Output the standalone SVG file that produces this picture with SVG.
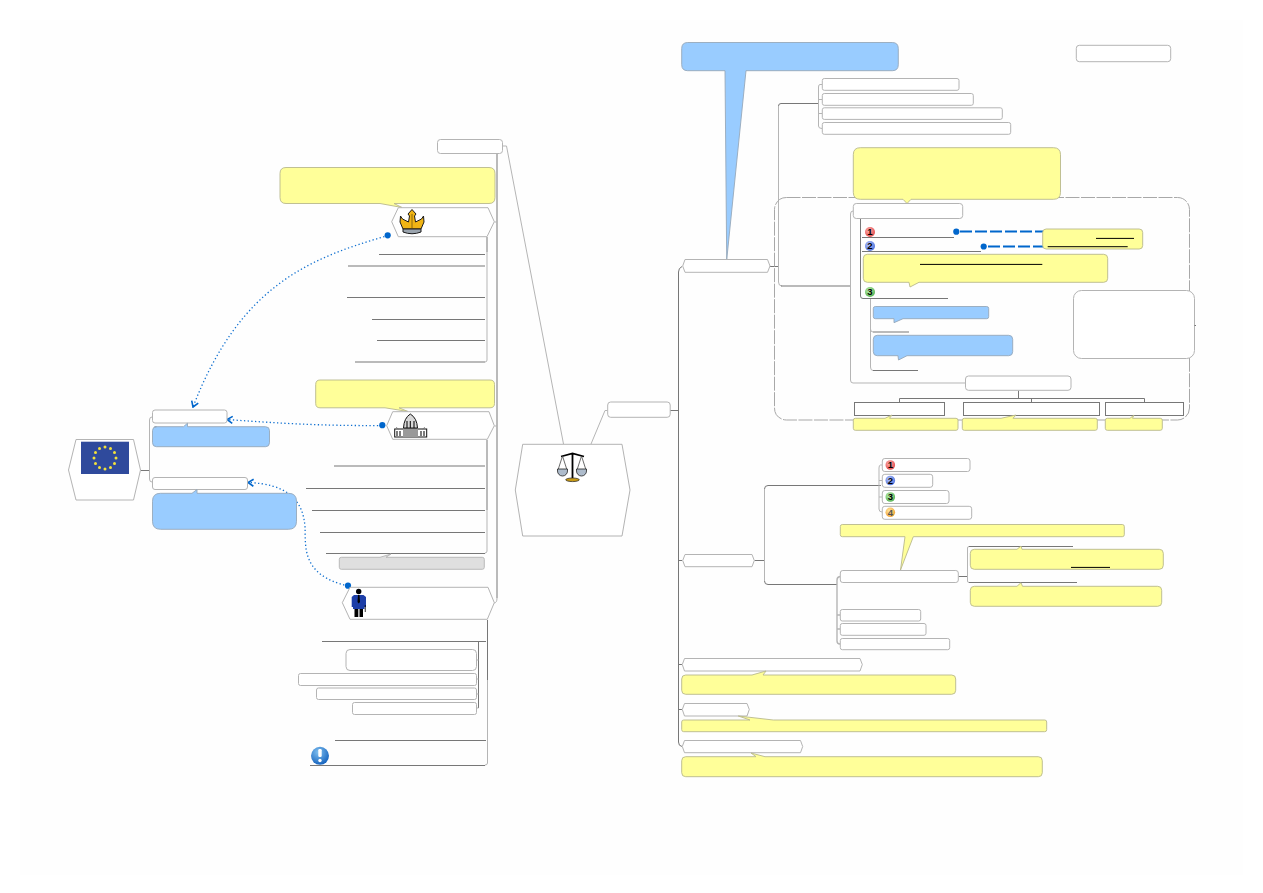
<svg xmlns="http://www.w3.org/2000/svg" width="1263" height="893" viewBox="0 0 1263 893">
<style>
.n{fill:#fff;stroke:#b4b4b4;stroke-width:1}
.y{fill:#ffff99;stroke:#b9b98c;stroke-width:.9}
.b{fill:#99ccff;stroke:#96a8ba;stroke-width:.9}
.g{fill:#dfdfdf;stroke:#b4b4b4;stroke-width:.9}
.t{fill:none;stroke:#777;stroke-width:1}
.l{fill:none;stroke:#b5b5b5;stroke-width:1}
.box{fill:#fff;stroke:#777;stroke-width:1}
.u{stroke:#000;stroke-width:1;fill:none}
.dot{fill:none;stroke:#1070d0;stroke-width:1.3;stroke-dasharray:1.3 2.4}
.dash{fill:none;stroke:#0066cc;stroke-width:2;stroke-dasharray:12 3}
.pin{fill:#0066cc}
.num{font:bold 9.5px "Liberation Sans",Arial,sans-serif;fill:#000;text-anchor:middle}
</style>
<defs>
<marker id="arrow" markerWidth="8" markerHeight="10" refX="7" refY="5" orient="auto" markerUnits="userSpaceOnUse"><path d="M1.5,1.5 L7,5 L1.5,8.5" fill="none" stroke="#0066cc" stroke-width="1.6"/></marker>
<radialGradient id="red" cx=".4" cy=".35" r=".7"><stop offset="0" stop-color="#ffb0b0"/><stop offset="1" stop-color="#e04848"/></radialGradient>
<radialGradient id="blue" cx=".4" cy=".35" r=".7"><stop offset="0" stop-color="#b8c8ff"/><stop offset="1" stop-color="#4a6cd8"/></radialGradient>
<radialGradient id="green" cx=".4" cy=".35" r=".7"><stop offset="0" stop-color="#c0f0b0"/><stop offset="1" stop-color="#50b050"/></radialGradient>
<radialGradient id="amber" cx=".4" cy=".35" r=".7"><stop offset="0" stop-color="#ffe8a0"/><stop offset="1" stop-color="#f0a030"/></radialGradient>
<radialGradient id="info" cx=".4" cy=".3" r=".8"><stop offset="0" stop-color="#80c0f0"/><stop offset="1" stop-color="#0858b8"/></radialGradient>
</defs>

<rect width="1263" height="893" fill="#fff"/>
<rect x="20" y="20" width="1223" height="855" fill="#fefefe"/>

<g id="connectors">
<!-- left trunk and its branches -->
<path class="l" d="M503,146 H506.5 L563.5,444"/>
<path class="l" d="M591,444 L605,410.5 H607.5"/>
<path class="t" d="M497,153.5 V598"/>
<path class="l" d="M497,598 Q497,603 494,603"/>
<path class="l" d="M494.5,222 H497 M494.5,426 H497"/>
<path class="t" d="M487,237 V252"/>
<path class="l" d="M487,252 V360 Q487,362 485,362"/>
<path class="t" d="M379,254.5 H485 M348,266 H485 M347,297.5 H485 M372,319.5 H485 M377,340.5 H485 M355,362 H485"/>
<path class="t" d="M487,440 V510"/>
<path class="l" d="M487,510 V551 Q487,553 485,553"/>
<path class="t" d="M334,466 H485 M306,488.5 H485 M312,510.5 H485 M320,532.5 H485 M326,553.5 H485"/>
<path class="t" d="M487.5,620 V680"/>
<path class="l" d="M487.5,680 V763 Q487.5,765 485,765"/>
<path class="t" d="M322,641.5 H486 M335,740.5 H486 M310,765.5 H485"/>
<path class="t" d="M478.5,642 V708"/>
<path class="l" d="M476.5,660 H478.5 M476.5,679 H478.5 M476.5,694 H478.5 M476.5,708 H478.5"/>
<path class="t" d="M141,470.5 H149"/>
<path class="l" d="M152,417 Q149.5,417 149.5,420 V479 Q149.5,482 152,482"/>

<!-- right trunk -->
<path class="t" d="M670,410.5 H678.5"/>
<path class="t" d="M682,266.5 Q678.5,268 678.5,272 V742 Q678.5,746 682,746.5"/>
<path class="t" d="M678.5,560.5 H682 M678.5,664.5 H682 M678.5,709.5 H682"/>
<path class="t" d="M770,266.5 H778"/>
<path class="l" d="M778.5,106 V282 Q778.5,286 782,286"/>
<path class="t" d="M781,103.5 H819 M781,286 H850 M781,103.5 Q778.5,103.5 778.5,106"/>
<path class="l" d="M822,84.5 H820 Q818.5,84.5 818.5,87 V126 Q818.5,128.5 822,128.5 M818.5,99.5 H822 M818.5,113.5 H822"/>
<path class="l" d="M853,211 Q850.5,211 850.5,214 V380 Q850.5,383 853,383 H966"/>
<path class="t" d="M860.5,218.5 V296 Q860.5,298.5 863,298.5 H948"/>
<path class="t" d="M862,237.5 H954 M862,251.5 H981"/>
<path class="l" d="M870.5,299 V329 Q870.5,332 873,332"/>
<path class="t" d="M873,332 H909 M873,370.5 H918"/>
<path class="l" d="M870.5,329 V367 Q870.5,370.5 873,370.5"/>
<path class="t" d="M1018.5,390.5 V398.5 M899.5,402 V398.5 H1144.5 V402 M1031.5,398.5 V402"/>
<path class="dash" d="M960,231.5 H1043"/>
<path class="dash" d="M988,246.5 H1043"/>
<path class="t" d="M754.5,560.5 H764"/>
<path class="l" d="M764.5,489 V581"/>
<path class="t" d="M768,485.5 H881 M768,584.5 H837 M768,485.5 Q764.5,485.5 764.5,489 M764.5,581 Q764.5,584.5 768,584.5"/>
<path class="l" d="M882,465 H880.5 Q879,465 879,468 V509 Q879,512 882,512 M879,480.5 H882 M879,497 H882"/>
<path class="l" style="stroke-width:1.4" d="M840,576.5 Q837,577 837,580 V641 Q837,644 840,644 M837,615 H840 M837,629 H840"/>
<path class="t" d="M958.5,576.5 H967"/>
<path class="t" d="M969,546.5 H1073 M969,582.5 H1077"/>
<path class="l" d="M969,546.5 Q967.5,546.5 967.5,548 V581 Q967.5,582.5 969,582.5"/>

<!-- dotted relationships -->
<path class="dot" d="M388,235.5 C310,258 240,285 193,407" marker-end="url(#arrow)"/>
<path class="dot" d="M382,425.5 C320,426 275,423 227,419.5" marker-end="url(#arrow)"/>
<path class="dot" d="M348,586 C300,575 306,545 305,527 C303,498 285,484 248,482.5" marker-end="url(#arrow)"/>
<circle class="pin" cx="387.7" cy="235.3" r="3.1"/>
<circle class="pin" cx="382.3" cy="425.2" r="3.1"/>
<circle class="pin" cx="348" cy="585.7" r="3.1"/>
<circle class="pin" cx="956.3" cy="231.7" r="3.1"/>
<circle class="pin" cx="983.7" cy="246.5" r="3.1"/>
</g>

<g id="boundary">
<rect x="774.5" y="197.5" width="415" height="222.5" rx="12" fill="none" stroke="#a8a8a8" stroke-width="1" stroke-dasharray="14 1.5"/>
</g>

<g id="eu"><path class="n" d="M68.5,470 L76,439.5 H133.5 L140.5,470 L133.5,500 H76 Z"/>
<rect x="81" y="441.7" width="48" height="32.3" fill="#2f4a9c"/>
<g fill="#f3e23a"><circle cx="105" cy="447" r="1.5"/><circle cx="110.5" cy="448.5" r="1.5"/><circle cx="114.5" cy="452.5" r="1.5"/><circle cx="116" cy="458" r="1.5"/><circle cx="114.5" cy="463.5" r="1.5"/><circle cx="110.5" cy="467.5" r="1.5"/><circle cx="105" cy="469" r="1.5"/><circle cx="99.5" cy="467.5" r="1.5"/><circle cx="95.5" cy="463.5" r="1.5"/><circle cx="94" cy="458" r="1.5"/><circle cx="95.5" cy="452.5" r="1.5"/><circle cx="99.5" cy="448.5" r="1.5"/></g></g>
<g id="left-a"><rect class="n" x="152.5" y="410" width="74.5" height="13" rx="2.5"/></g>
<g id="left-a-note"><path class="b" d="M154.5,426.7 H183.5 L187.5,423.2 V426.7 H265.5 Q269.5,426.7 269.5,430.7 V442.7 Q269.5,446.7 265.5,446.7 H156.5 Q152.5,446.7 152.5,442.7 V430.7 Q152.5,426.7 156.5,426.7 Z"/></g>
<g id="left-b"><rect class="n" x="152.5" y="477.5" width="95" height="12" rx="2.5"/></g>
<g id="left-b-note"><path class="b" d="M160.5,493.3 H192 L197,489.5 V493.3 H288.5 Q296.5,493.3 296.5,501.3 V521.3 Q296.5,529.3 288.5,529.3 H160.5 Q152.5,529.3 152.5,521.3 V501.3 Q152.5,493.3 160.5,493.3 Z"/></g>

<g id="top-left-label"><rect class="n" x="437.5" y="139.5" width="65" height="14" rx="3"/></g>
<g id="crown-note"><path class="y" d="M286,167.5 H489 Q495,167.5 495,173.5 V197.5 Q495,203.5 489,203.5 H394 L402,207.5 L380,203.5 H286 Q280,203.5 280,197.5 V173.5 Q280,167.5 286,167.5 Z"/></g>
<g id="crown"><path class="n" d="M391.7,221.7 L398.3,207.7 H488 L494.3,221.7 L487,236.7 H398.3 Z"/>
<path d="M412,209.5 L416,214 L414.5,216 L415.5,222 L421.5,219 L423.5,216 L424,222 L421,229 H403 L400,222 L400.5,216 L402.5,219 L408.5,222 L409.5,216 L408,214 Z" fill="#f0b414" stroke="#1a1a1a" stroke-width="1"/>
<path d="M403,229 H421 V232 Q412,235.5 403,232 Z" fill="#9aa4ae" stroke="#1a1a1a" stroke-width="1"/>
<path d="M412,214 V228" stroke="#8a6a10" stroke-width="1"/></g>

<g id="capitol-note"><path class="y" d="M320,380 H490 Q494.5,380 494.5,384.5 V403.5 Q494.5,407.8 490,407.8 H399 L408,411.5 L385,407.8 H320 Q315.7,407.8 315.7,403.5 V384.5 Q315.7,380 320,380 Z"/></g>
<g id="capitol"><path class="n" d="M386.7,425.7 L392.7,411.7 H489 L494.3,425.7 L487.3,439.3 H392.7 Z"/>
<path d="M410.3,414 Q404,418 403.5,428 H417.5 Q417,418 410.3,414 Z" fill="#d8d8d8" stroke="#111" stroke-width="1"/>
<rect x="394.7" y="429" width="32" height="8" fill="#fff" stroke="#111" stroke-width="1"/>
<rect x="403" y="429" width="15" height="8" fill="#999"/>
<path d="M397,431 V436 M400,431 V436 M421,431 V436 M424,431 V436 M407,421 V428 M410.3,421 V428 M414,421 V428" stroke="#111" stroke-width="1.1" fill="none"/>
<path d="M396,427.5 L398.5,429 M425,427.5 L422.5,429" stroke="#777"/></g>
<g id="gray-note"><path class="g" d="M341.3,557.3 H380 L391,554 L386,557.3 H482.3 Q484.3,557.3 484.3,559.3 V567.3 Q484.3,569.3 482.3,569.3 H341.3 Q339.3,569.3 339.3,567.3 V559.3 Q339.3,557.3 341.3,557.3 Z"/></g>

<g id="person"><path class="n" d="M342.3,602.7 L350,587.3 H488 L494.3,602.7 L487.3,619.3 H350 Z"/>
<circle cx="358.7" cy="591.5" r="2.7" fill="#000"/>
<path d="M354,595 H363.5 L366,597 V607 H364.5 V609 H353 V607 H351.7 V597 Z" fill="#1d3fa8"/>
<path d="M358,595 H359.5 L360,602 L358.7,603.5 L357.5,602 Z" fill="#000"/>
<path d="M354.5,609 H358.3 V617 H354.5 Z M359.5,609 H363 V617 H359.5 Z M364.8,605 H365.6 V612 H364.8 Z" fill="#000"/></g>
<g id="person-a"><rect class="n" x="346" y="649.5" width="130.5" height="21" rx="4"/></g>
<g id="person-b"><rect class="n" x="298.5" y="673.5" width="178" height="12" rx="2"/></g>
<g id="person-c"><rect class="n" x="316.5" y="688" width="160" height="11.5" rx="2"/></g>
<g id="person-d"><rect class="n" x="352.5" y="702.5" width="124" height="12" rx="2"/></g>
<g id="warning"><circle cx="320" cy="755.8" r="9" fill="url(#info)"/><rect x="318.3" y="749" width="3.4" height="8" rx="1.2" fill="#fff"/><circle cx="320" cy="760.5" r="1.7" fill="#fff"/></g>

<g id="central"><path d="M515.3,490 L522.7,444.3 H622 L630,490 L622,536 H522.7 Z" fill="#fff" stroke="#aaa" stroke-width=".9"/>
<path d="M572.5,453 V478 M561,456.5 L572.5,453.5 L584,456.5" stroke="#000" stroke-width="1.8" fill="none"/>
<path d="M562.5,456 L558,470 M562.5,456 L567,470 M581.5,456 L577,470 M581.5,456 L586,470" stroke="#444" stroke-width=".8" fill="none"/>
<path d="M557.5,469 H567.5 V471 A5,5 0 0 1 557.5,471 Z M576.5,469 H586.5 V471 A5,5 0 0 1 576.5,471 Z" fill="#aebccc" stroke="#222" stroke-width=".8"/>
<ellipse cx="572.5" cy="479.8" rx="6.8" ry="1.8" fill="#c89a14" stroke="#222" stroke-width=".7"/></g>
<g id="central-right"><rect class="n" x="607.7" y="402" width="62.5" height="15.3" rx="3"/></g>
<g id="top-right-label"><rect class="n" x="1076.3" y="45.3" width="94.4" height="16.4" rx="3"/></g>

<g id="blue-banner"><path class="b" d="M687.7,42.5 H892.3 Q898.3,42.5 898.3,48.5 V64.7 Q898.3,70.7 892.3,70.7 H746 L726.7,260 L725,70.7 H687.7 Q681.7,70.7 681.7,64.7 V48.5 Q681.7,42.5 687.7,42.5 Z"/></g>
<g id="hub"><path class="n" d="M682.7,266 L685,259.5 H767.5 L770,266 L767.5,272.3 H685 Z"/></g>
<g id="list-1"><rect class="n" x="822.3" y="78.5" width="136.7" height="11.8" rx="2"/></g>
<g id="list-2"><rect class="n" x="822.3" y="93.5" width="151" height="11.8" rx="2"/></g>
<g id="list-3"><rect class="n" x="822.3" y="107.8" width="180" height="11.6" rx="2"/></g>
<g id="list-4"><rect class="n" x="822.3" y="122.5" width="188.4" height="11.8" rx="2"/></g>

<g id="group-note"><path class="y" d="M860.3,147.7 H1053.5 Q1060.5,147.7 1060.5,154.7 V192.3 Q1060.5,199.3 1053.5,199.3 H911 L907,203.5 L903,199.3 H860.3 Q853.3,199.3 853.3,192.3 V154.7 Q853.3,147.7 860.3,147.7 Z"/></g>
<g id="group-head"><rect class="n" x="853.3" y="203.5" width="109.4" height="15" rx="3"/></g>
<g id="step-1"><circle cx="870" cy="232" r="5" fill="url(#red)"/><text class="num" x="870" y="235.4">1</text></g>
<g id="step-2"><circle cx="870" cy="246" r="5" fill="url(#blue)"/><text class="num" x="870" y="249.4">2</text></g>
<g id="step-3"><circle cx="870" cy="292" r="5" fill="url(#green)"/><text class="num" x="870" y="295.4">3</text></g>
<g id="steps-note"><rect class="y" x="1042.7" y="229" width="100" height="20" rx="3.5"/><path class="u" d="M1096,238.4 H1134 M1047.7,246.7 H1127.7"/></g>
<g id="mid-note"><path class="y" d="M867.3,254.3 H1103.7 Q1107.7,254.3 1107.7,258.3 V278.3 Q1107.7,282.3 1103.7,282.3 H919 L910,287 L909,282.3 H867.3 Q863.3,282.3 863.3,278.3 V258.3 Q863.3,254.3 867.3,254.3 Z"/><path class="u" d="M920,264.4 H1042.3"/></g>
<g id="blue-a"><path class="b" d="M875.3,306.5 H986.7 Q988.7,306.5 988.7,308.5 V316.7 Q988.7,318.7 986.7,318.7 H903 L894,322.7 L894,318.7 H875.3 Q873.3,318.7 873.3,316.7 V308.5 Q873.3,306.5 875.3,306.5 Z"/></g>
<g id="blue-b"><path class="b" d="M877.3,335.3 H1008.7 Q1012.7,335.3 1012.7,339.3 V351.7 Q1012.7,355.7 1008.7,355.7 H907 L898.5,360 L898,355.7 H877.3 Q873.3,355.7 873.3,351.7 V339.3 Q873.3,335.3 877.3,335.3 Z"/></g>
<g id="side-note"><rect class="n" x="1073.5" y="290.5" width="121" height="68" rx="8"/><path class="t" d="M1194.5,325.5 H1196"/></g>
<g id="tree-head"><rect class="n" x="965.5" y="376" width="105.5" height="14.3" rx="3"/></g>
<g id="tree-1"><rect class="box" x="854.5" y="402.5" width="90" height="13"/></g>
<g id="tree-2"><rect class="box" x="963.5" y="402.5" width="136" height="13"/></g>
<g id="tree-3"><rect class="box" x="1105.5" y="402.5" width="78" height="13"/></g>
<g id="tree-1-note"><path class="y" d="M855.3,418.3 H885 L892,415 L889.5,418.3 H956 Q958,418.3 958,420.3 V428.3 Q958,430.3 956,430.3 H855.3 Q853.3,430.3 853.3,428.3 V420.3 Q853.3,418.3 855.3,418.3 Z"/></g>
<g id="tree-2-note"><path class="y" d="M964.3,418.3 H1001 L1016,415 L1013,418.3 H1095.3 Q1097.3,418.3 1097.3,420.3 V428.3 Q1097.3,430.3 1095.3,430.3 H964.3 Q962.3,430.3 962.3,428.3 V420.3 Q962.3,418.3 964.3,418.3 Z"/></g>
<g id="tree-3-note"><path class="y" d="M1107.3,418.3 H1130 L1134,415 L1132.5,418.3 H1160.3 Q1162.3,418.3 1162.3,420.3 V428.3 Q1162.3,430.3 1160.3,430.3 H1107.3 Q1105.3,430.3 1105.3,428.3 V420.3 Q1105.3,418.3 1107.3,418.3 Z"/></g>

<g id="hub-2"><path class="n" d="M682.7,560.5 L685,554.5 H752 L754.3,560.5 L752,566.7 H685 Z"/></g>
<g id="item-1"><rect class="n" x="882.3" y="458.5" width="87.7" height="13" rx="2.5"/><circle cx="890.3" cy="465" r="4.8" fill="url(#red)"/><text class="num" x="890.3" y="468.4">1</text></g>
<g id="item-2"><rect class="n" x="882.3" y="474.3" width="50.4" height="13" rx="2.5"/><circle cx="890.3" cy="480.5" r="4.8" fill="url(#blue)"/><text class="num" x="890.3" y="483.9">2</text></g>
<g id="item-3"><rect class="n" x="882.3" y="490.5" width="66.7" height="13" rx="2.5"/><circle cx="890.3" cy="497" r="4.8" fill="url(#green)"/><text class="num" x="890.3" y="500.4">3</text></g>
<g id="item-4"><rect class="n" x="882.3" y="506.3" width="89.4" height="13" rx="2.5"/><circle cx="890.3" cy="512.3" r="4.8" fill="url(#amber)"/><text class="num" x="890.3" y="515.7" style="fill:#555">4</text></g>
<g id="wide-note"><path class="y" d="M842.3,524.5 H1122.3 Q1124.3,524.5 1124.3,526.5 V534.7 Q1124.3,536.7 1122.3,536.7 H913.3 L900.5,570 L905,536.7 H842.3 Q840.3,536.7 840.3,534.7 V526.5 Q840.3,524.5 842.3,524.5 Z"/></g>
<g id="sub-head"><rect class="n" x="840.3" y="570.5" width="118" height="12" rx="2.5"/></g>
<g id="sub-note-1"><path class="y" d="M974.3,549.3 H1017 L1021,546 L1022,549.3 H1159.3 Q1163.3,549.3 1163.3,553.3 V565.3 Q1163.3,569.3 1159.3,569.3 H974.3 Q970.3,569.3 970.3,565.3 V553.3 Q970.3,549.3 974.3,549.3 Z"/><path class="u" d="M1071,567.4 H1110"/></g>
<g id="sub-note-2"><path class="y" d="M974.3,586.3 H1017 L1021,582.7 L1022.5,586.3 H1157.7 Q1161.7,586.3 1161.7,590.3 V602.3 Q1161.7,606.3 1157.7,606.3 H974.3 Q970.3,606.3 970.3,602.3 V590.3 Q970.3,586.3 974.3,586.3 Z"/></g>
<g id="sub-1"><rect class="n" x="840.3" y="609.5" width="80.4" height="11.5" rx="2"/></g>
<g id="sub-2"><rect class="n" x="840.3" y="623.5" width="85.7" height="11.8" rx="2"/></g>
<g id="sub-3"><rect class="n" x="840.3" y="638.5" width="109.4" height="11.2" rx="2"/></g>

<g id="topic-a"><path class="n" d="M682.3,664.5 L684.5,658.5 H860 L862.3,664.5 L860,671 H684.5 Z"/></g>
<g id="topic-a-note"><path class="y" d="M685.7,675 H752 L766,671 L763,675 H951.7 Q955.7,675 955.7,679 V690.3 Q955.7,694.3 951.7,694.3 H685.7 Q681.7,694.3 681.7,690.3 V679 Q681.7,675 685.7,675 Z"/></g>
<g id="topic-b"><path class="n" d="M682.3,709.5 L684.5,703.5 H747 L749.3,709.5 L747,716 H684.5 Z"/></g>
<g id="topic-b-note"><path class="y" d="M683.7,720 H750 L738.3,716 L773.3,720 H1044.7 Q1046.7,720 1046.7,722 V729.7 Q1046.7,731.7 1044.7,731.7 H683.7 Q681.7,731.7 681.7,729.7 V722 Q681.7,720 683.7,720 Z"/></g>
<g id="topic-c"><path class="n" d="M682.3,746.5 L684.5,740.5 H800.5 L802.7,746.5 L800.5,752.7 H684.5 Z"/></g>
<g id="topic-c-note"><path class="y" d="M685.7,756.7 H756 L751,753 L765,756.7 H1038.3 Q1042.3,756.7 1042.3,760.7 V772.7 Q1042.3,776.7 1038.3,776.7 H685.7 Q681.7,776.7 681.7,772.7 V760.7 Q681.7,756.7 685.7,756.7 Z"/></g>
</svg>
